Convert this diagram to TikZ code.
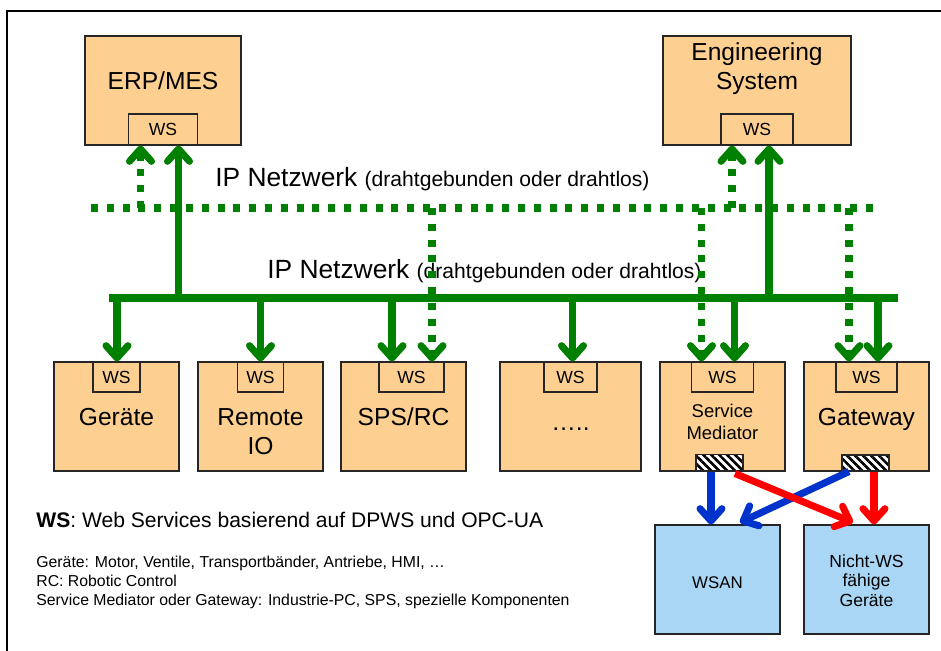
\documentclass[tikz,border=0pt]{standalone}
\usepackage{fontspec}
\setmainfont{Liberation Sans}
\usetikzlibrary{arrows.meta,calc,patterns.meta}

\definecolor{boxorange}{RGB}{253,208,146}
\definecolor{boxblue}{RGB}{170,214,246}
\definecolor{netgreen}{RGB}{0,128,0}
\definecolor{gwblue}{RGB}{0,51,204}
\definecolor{gwred}{RGB}{255,0,0}

\tikzset{
  BoxStyle/.style = { draw=black!85, line width=0.6pt, fill=boxorange,
                      minimum width=2.5cm, minimum height=2.18cm, inner sep=0pt },
  WSStyle/.style = { BoxStyle, minimum height=0.6cm,
                     font=\fontsize{10}{12}\selectfont },
  HatchStyle/.style = { draw=black!85, line width=0.6pt, inner sep=0pt,
                        minimum width=0.94cm, minimum height=0.32cm,
                        preaction={fill=white},
                        pattern={Lines[angle=-45,distance=3.2pt,line width=1.5pt]} },
  LabelStyle/.style = { font=\fontsize{14}{16.2}\selectfont, align=center,
                        anchor=base, inner sep=0pt },
  SmallLabelStyle/.style = { font=\fontsize{10.5}{12.5}\selectfont, align=center,
                             anchor=base, inner sep=0pt },
  WSTip/.tip = {Straight Barb[round, length=7pt, width=12.5pt]},
  BusStyle/.style = { line width=4pt, draw=netgreen },
  NetStyle/.style = { BusStyle, dash pattern=on 4pt off 5pt },
  BusArrow/.style = { BusStyle, -WSTip },
  NetArrow/.style = { NetStyle, -WSTip },
  LinkArrow/.style = { line width=4pt, -WSTip }
}

\begin{document}
\begin{tikzpicture}[x=0.02cm, y=-0.02cm]
	\useasboundingbox (0,0) rectangle (941,650);
	\clip (0,0) rectangle (941,650);
	\draw[line width=1.1pt] (7,670) |- (960,11);

	% top systems
	\node[BoxStyle, minimum width=3.12cm] (erp) at (163,90.5) {};
	\node[BoxStyle, minimum width=3.76cm] (eng) at (757,90.5) {};
	\node[WSStyle, minimum width=1.38cm, minimum height=0.62cm, anchor=south] (erpws) at (erp.south) {WS};
	\node[WSStyle, minimum width=1.44cm, minimum height=0.62cm, anchor=south] (engws) at (eng.south) {WS};
	\node[LabelStyle] (erpT) at (163,89) {ERP/MES};
	\node[LabelStyle] (engT) at (757,89) {Engineering\\System};

	% field level
	\node[BoxStyle] (geraete)  at (116.5,416.5) {};
	\node[BoxStyle] (remote)   at (260.5,416.5) {};
	\node[BoxStyle] (sps)      at (403.5,416.5) {};
	\node[BoxStyle, minimum width=2.82cm] (more) at (570.5,416.5) {};
	\node[BoxStyle] (mediator) at (722.5,416.5) {};
	\node[BoxStyle] (gateway)  at (866.5,416.5) {};
	\node[WSStyle, minimum width=0.94cm, anchor=north] (gws)  at (geraete.north) {WS};
	\node[WSStyle, minimum width=0.92cm, anchor=north] (rws)  at (remote.north) {WS};
	\node[WSStyle, minimum width=1.30cm, anchor=north] (sws)  at ($(sps.north)+(8,0)$) {WS};
	\node[WSStyle, minimum width=1.06cm, anchor=north] (dws)  at (more.north) {WS};
	\node[WSStyle, minimum width=1.24cm, anchor=north] (mws)  at (mediator.north) {WS};
	\node[WSStyle, minimum width=1.22cm, anchor=north] (gwws) at (gateway.north) {WS};
	\node[LabelStyle] (geraeteT) at (116.5,425) {Geräte};
	\node[LabelStyle] (remoteT)  at (260.5,454) {Remote\\IO};
	\node[LabelStyle] (spsT)     at (403.5,425) {SPS/RC};
	\node[LabelStyle] (moreT)    at (570.5,430) {…..};
	\node[SmallLabelStyle] (mediatorT) at (722.5,439) {Service\\Mediator};
	\node[LabelStyle] (gatewayT) at (866.5,425) {Gateway};
	\node[HatchStyle, anchor=south] (mhatch) at ($(mediator.south)+(-3,0)$) {};
	\node[HatchStyle, anchor=south] (ghatch) at ($(gateway.south)+(-1,0)$) {};

	% non-WS devices
	\node[BoxStyle, fill=boxblue] (wsan)  at (717.5,579.5) {};
	\node[BoxStyle, fill=boxblue] (nicht) at (866.5,579.5) {};
	\node[SmallLabelStyle, font=\fontsize{9.6}{11}\selectfont] (wsanT)  at (717.5,588) {WSAN};
	\node[SmallLabelStyle, font=\fontsize{10}{11}\selectfont] (nichtT) at (866.5,606) {Nicht-WS\\fähige\\Geräte};

	% networks
	\coordinate (NetW) at (91,208);
	\coordinate (NetE) at (880,208);
	\coordinate (BusW) at (109,298);
	\coordinate (BusE) at (898,298);
	\draw[NetStyle] (NetW) -- (NetE);
	\draw[BusStyle] (BusW) -- (BusE);
	\node[anchor=base west, inner sep=0pt] (netT) at (215,186)
	  {\fontsize{15}{18}\selectfont IP Netzwerk \fontsize{12}{14}\selectfont(drahtgebunden oder drahtlos)};
	\node[anchor=base west, inner sep=0pt] (busT) at (267,278)
	  {\fontsize{15}{18}\selectfont IP Netzwerk \fontsize{12}{14}\selectfont(drahtgebunden oder drahtlos)};

	% up to the top systems
	\foreach \ws/\dx/\kind in {erpws/15.5/Bus, engws/12/Bus, erpws/-22.5/Net, engws/-25/Net}{
	  \path (\ws.south) ++(\dx,0) coordinate (up-\ws\kind);
	  \draw[\kind Arrow] (up-\ws\kind |- \kind W) -- (up-\ws\kind);
	}
	% down to the field level
	\foreach \ws/\dx/\kind in {gws/0.5/Bus, rws/0/Bus, sws/-19.5/Bus, dws/2/Bus,
	                           mws/12/Bus, gwws/11.5/Bus,
	                           sws/20.5/Net, mws/-21/Net, gwws/-17.5/Net}{
	  \path (\ws.north) ++(\dx,0) coordinate (down-\ws\kind);
	  \draw[\kind Arrow] (down-\ws\kind |- \kind W) -- (down-\ws\kind);
	}

	% mediator and gateway links
	\draw[LinkArrow, gwblue] ($(mhatch.south)+(-8.5,0)$) -- ($(wsan.north)+(-6.5,0)$);
	\draw[LinkArrow, gwblue] ($(ghatch.south)+(-16.5,0)$) -- ($(wsan.north)+(22.5,-2)$);
	\draw[LinkArrow, gwred]  ($(mhatch.south)+(15.5,2)$) -- ($(nicht.north)+(-13.5,-2)$);
	\draw[LinkArrow, gwred]  ($(ghatch.south)+(8.5,0)$) -- ($(nicht.north)+(7.5,0)$);

	% legend
	\node[anchor=base west, inner sep=0pt, font=\fontsize{12}{14}\selectfont] (wsnote) at (36,527)
	  {\textbf{WS}: Web Services basierend auf DPWS und OPC-UA};
	\node[anchor=base west, inner sep=0pt, align=left, font=\fontsize{9}{10.8}\selectfont] (notes) at (36,605)
	  {Geräte: Motor, Ventile, Transportbänder, Antriebe, HMI, …\\
	   RC: Robotic Control\\
	   Service Mediator oder Gateway: Industrie-PC, SPS, spezielle Komponenten};
\end{tikzpicture}
\end{document}
